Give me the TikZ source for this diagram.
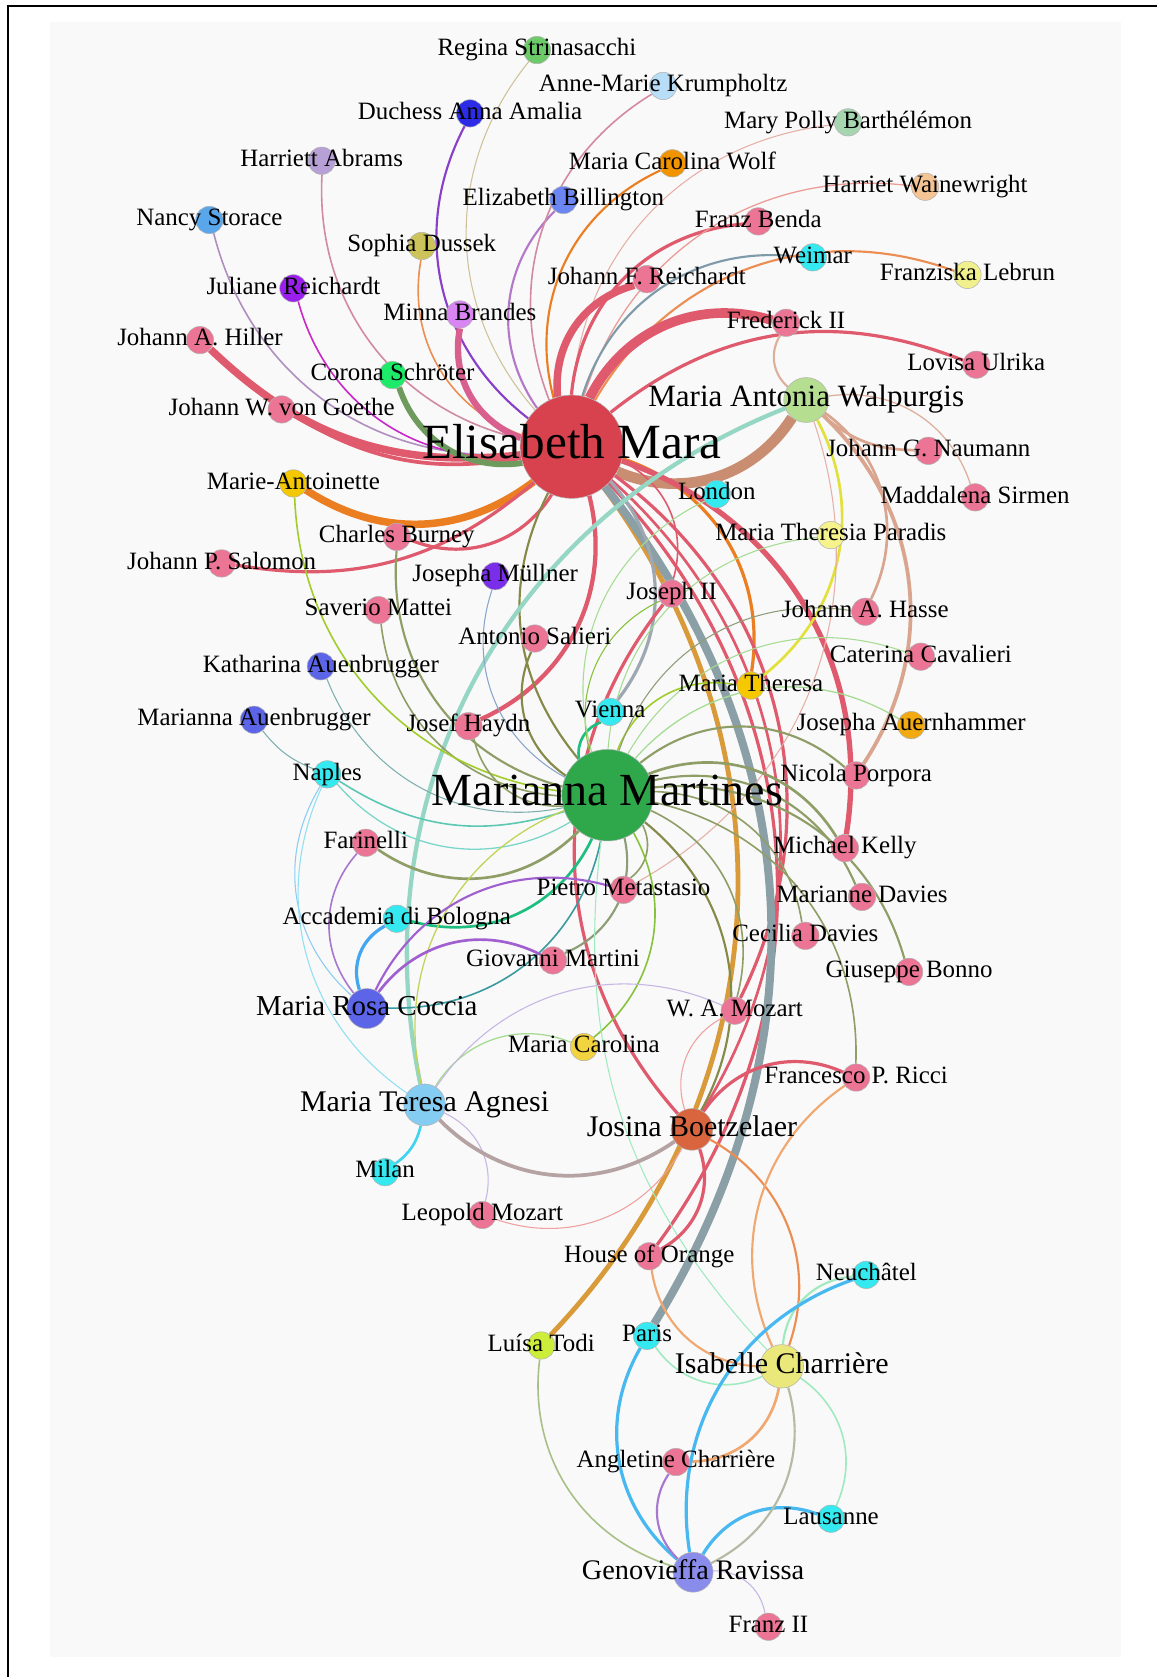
\documentclass[tikz,border=0pt]{standalone}
\usepackage{fontspec}
\setmainfont{Liberation Serif}
\pgfdeclarelayer{bglayer}
\pgfdeclarelayer{edgelayer}
\pgfsetlayers{bglayer,edgelayer,main}
% edge colours
\definecolor{cRed}{HTML}{E05A6E}
\definecolor{cTan}{HTML}{CFC29A}
\definecolor{cPurp}{HTML}{8A3FC8}
\definecolor{cMauve}{HTML}{D28AA2}
\definecolor{cLav}{HTML}{B08FC0}
\definecolor{cMag}{HTML}{C828C8}
\definecolor{cGrnG}{HTML}{6E9A5E}
\definecolor{cOrL}{HTML}{EC8E54}
\definecolor{cPinkE}{HTML}{D9608E}
\definecolor{cViol}{HTML}{B478C8}
\definecolor{cOr}{HTML}{EC7E22}
\definecolor{cSalL}{HTML}{E6B0A6}
\definecolor{cSal}{HTML}{EC9C96}
\definecolor{cSlate}{HTML}{7F9BAA}
\definecolor{cBrown}{HTML}{C98E72}
\definecolor{cGold}{HTML}{D99A3A}
\definecolor{cGray}{HTML}{8B9FA6}
\definecolor{cGrayL}{HTML}{9EA8B2}
\definecolor{cOliveD}{HTML}{858A48}
\definecolor{cTanL}{HTML}{DDB09C}
\definecolor{cTanB}{HTML}{D9A58E}
\definecolor{cYel}{HTML}{E2E03A}
\definecolor{cMint}{HTML}{96D6C4}
\definecolor{cOlive}{HTML}{8E9E66}
\definecolor{cTealG}{HTML}{7FB0B0}
\definecolor{cTealL}{HTML}{5CC8B4}
\definecolor{cTealLL}{HTML}{7AD6C8}
\definecolor{cGreen}{HTML}{1DBF80}
\definecolor{cOliveG}{HTML}{8D9D77}
\definecolor{cTeal}{HTML}{3A9AA0}
\definecolor{cLime}{HTML}{86C23A}
\definecolor{cYelG}{HTML}{C2D458}
\definecolor{cLimeY}{HTML}{A0CC2C}
\definecolor{cBlueG}{HTML}{8AA4CC}
\definecolor{cLGreen}{HTML}{A6DC92}
\definecolor{cMintL}{HTML}{A0EAC0}
\definecolor{cPurpL}{HTML}{A878D0}
\definecolor{cBlue}{HTML}{42A6F2}
\definecolor{cPurpM}{HTML}{A060D0}
\definecolor{cSky}{HTML}{8CCBF4}
\definecolor{cCyanL}{HTML}{90E0F4}
\definecolor{cCyan}{HTML}{40D4F0}
\definecolor{cLavL}{HTML}{C6B6E2}
\definecolor{cMauveG}{HTML}{B5A3A3}
\definecolor{cPinkL}{HTML}{F0A0A0}
\definecolor{cPeach}{HTML}{F0A870}
\definecolor{cBlueS}{HTML}{48B8F0}
\definecolor{cGrayG}{HTML}{B4BAA4}
\definecolor{cSage}{HTML}{A8C088}
% node colours
\definecolor{nPink}{HTML}{EC7494}
\definecolor{nCyan}{HTML}{34EAF0}
\definecolor{nRegina}{HTML}{6CCB68}
\definecolor{nAnne}{HTML}{B8DDF6}
\definecolor{nAnna}{HTML}{2C2CE6}
\definecolor{nMary}{HTML}{A6D6B0}
\definecolor{nAbrams}{HTML}{B6A0D6}
\definecolor{nWolf}{HTML}{F29400}
\definecolor{nBill}{HTML}{6B86F2}
\definecolor{nWaine}{HTML}{F4C494}
\definecolor{nStorace}{HTML}{5AA6EA}
\definecolor{nDussek}{HTML}{CCC45A}
\definecolor{nLebrun}{HTML}{F0F08C}
\definecolor{nJuliane}{HTML}{9A1EEE}
\definecolor{nBrandes}{HTML}{D884F2}
\definecolor{nCorona}{HTML}{1EEA6A}
\definecolor{nMAW}{HTML}{B6DE90}
\definecolor{nEM}{HTML}{D8414E}
\definecolor{nAntoin}{HTML}{F4C800}
\definecolor{nParadis}{HTML}{F6F28C}
\definecolor{nMullner}{HTML}{7A2EEA}
\definecolor{nAuen}{HTML}{5C64E8}
\definecolor{nTheresa}{HTML}{F6C800}
\definecolor{nAuern}{HTML}{F2AA10}
\definecolor{nMM}{HTML}{2EA84A}
\definecolor{nCarolina}{HTML}{F2D440}
\definecolor{nAgnesi}{HTML}{84CCF2}
\definecolor{nJB}{HTML}{D9653F}
\definecolor{nTodi}{HTML}{CCEE3A}
\definecolor{nIC}{HTML}{EAE87A}
\definecolor{nGR}{HTML}{8A8CEC}
\definecolor{cPanel}{HTML}{F9F9F9}
\newcommand{\edg}[5][40]{\draw[line width=#4pt, draw=#5] (#2) to[bend right=#1] (#3);}
\tikzset{
  nd/.style={circle, inner sep=0pt, minimum size=25.6pt, draw=black!30, line width=0.5pt},
  lab/.style={font=\fontsize{23.3}{24}\selectfont, anchor=base, yshift=-5.4pt, inner sep=0pt},
  labm/.style={font=\fontsize{28}{29}\selectfont, anchor=base, yshift=-6.4pt, inner sep=0pt},
  labb/.style={font=\fontsize{46}{47}\selectfont, anchor=base, yshift=-10.6pt, inner sep=0pt},
}
\begin{document}
\begin{tikzpicture}[x=1pt,y=-1pt]
\useasboundingbox (0,0) rectangle (1082,1568);
\begin{pgfonlayer}{bglayer}
\fill[white] (0,0) rectangle (1082,1568);
\fill[cPanel] (46.8,20.6) rectangle (1048,1549);
\draw[line width=1.9pt] (7.5,1568) -- (7.5,5.6) -- (1082,5.6);
\end{pgfonlayer}
% ---------------- nodes
\node[nd, fill=nRegina] (regina) at (502,46.8) {};
\node[nd, fill=nAnne] (anne) at (620,80.4) {};
\node[nd, fill=nAnna] (anna) at (439.5,106) {};
\node[nd, fill=nMary] (mary) at (793,114.4) {};
\node[nd, fill=nAbrams] (abrams) at (300.8,150.3) {};
\node[nd, fill=nWolf] (wolf) at (628.7,152.7) {};
\node[nd, fill=nBill] (billington) at (526.8,187) {};
\node[nd, fill=nWaine] (wainewright) at (865,174.6) {};
\node[nd, fill=nStorace] (storace) at (195.8,205.7) {};
\node[nd, fill=nDussek] (dussek) at (394.3,230) {};
\node[nd, fill=nPink] (benda) at (709,207) {};
\node[nd, fill=nCyan] (weimar) at (760,240.6) {};
\node[nd, fill=nLebrun] (lebrun) at (904.6,257) {};
\node[nd, fill=nPink] (jfreichardt) at (604.8,261) {};
\node[nd, fill=nJuliane] (juliane) at (274.3,269.6) {};
\node[nd, fill=nBrandes] (brandes) at (430,294) {};
\node[nd, fill=nPink] (hiller) at (187,318) {};
\node[nd, fill=nPink] (frederick) at (735,301.8) {};
\node[nd, fill=nPink] (lovisa) at (912.8,341) {};
\node[nd, fill=nCorona] (corona) at (367,350.7) {};
\node[nd, fill=nPink] (goethe) at (263.4,382.8) {};
\node[nd, fill=nMAW, minimum size=42pt] (maw) at (753.8,374) {};
\node[nd, fill=nEM, minimum size=96.6pt] (em) at (534.6,417.7) {};
\node[nd, fill=nPink] (naumann) at (868,421.5) {};
\node[nd, fill=nPink] (sirmen) at (911.8,465) {};
\node[nd, fill=nCyan] (london) at (670.2,462) {};
\node[nd, fill=nAntoin] (antoinette) at (274.3,452) {};
\node[nd, fill=nParadis] (paradis) at (776.8,500.3) {};
\node[nd, fill=nPink] (burney) at (371,502) {};
\node[nd, fill=nPink] (salomon) at (207.3,526.8) {};
\node[nd, fill=nMullner] (mullner) at (463,538.7) {};
\node[nd, fill=nPink] (joseph) at (628,555) {};
\node[nd, fill=nPink] (mattei) at (353.8,570.5) {};
\node[nd, fill=nPink] (hasse) at (809,572) {};
\node[nd, fill=nPink] (salieri) at (500,597) {};
\node[nd, fill=nPink] (cavalieri) at (861,614) {};
\node[nd, fill=nAuen] (katharina) at (300,623) {};
\node[nd, fill=nTheresa] (theresa) at (702,641) {};
\node[nd, fill=nAuern] (auernhammer) at (852,678) {};
\node[nd, fill=nAuen] (marianna) at (237.5,673) {};
\node[nd, fill=nCyan] (vienna) at (570.5,665.6) {};
\node[nd, fill=nPink] (haydn) at (438,679) {};
\node[nd, fill=nCyan] (naples) at (306,724) {};
\node[nd, fill=nPink] (porpora) at (800.5,725) {};
\node[nd, fill=nMM, minimum size=85.6pt] (mm) at (568,743.5) {};
\node[nd, fill=nPink] (farinelli) at (342,788) {};
\node[nd, fill=nPink] (kelly) at (790,793) {};
\node[nd, fill=nPink] (metastasio) at (583,832) {};
\node[nd, fill=nCyan] (accademia) at (371,859) {};
\node[nd, fill=nPink] (mdavies) at (806,838.6) {};
\node[nd, fill=nPink] (cdavies) at (753,875) {};
\node[nd, fill=nPink] (martini) at (517,898) {};
\node[nd, fill=nPink] (bonno) at (850,908.7) {};
\node[nd, fill=nAuen, minimum size=37.4pt] (coccia) at (343,943) {};
\node[nd, fill=nPink] (mozart) at (687,945) {};
\node[nd, fill=nCarolina] (carolina) at (546,979) {};
\node[nd, fill=nPink] (ricci) at (800.5,1007.5) {};
\node[nd, fill=nAgnesi, minimum size=39pt] (agnesi) at (397,1033) {};
\node[nd, fill=nJB, minimum size=39pt] (boetzelaer) at (647,1056) {};
\node[nd, fill=nCyan] (milan) at (360,1096) {};
\node[nd, fill=nPink] (leopold) at (451,1136) {};
\node[nd, fill=nPink] (orange) at (607,1174.6) {};
\node[nd, fill=nCyan] (neuchatel) at (810,1192) {};
\node[nd, fill=nCyan] (paris) at (605,1249) {};
\node[nd, fill=nTodi] (todi) at (506,1258) {};
\node[nd, fill=nIC, minimum size=40.6pt] (charriere) at (731,1277.5) {};
\node[nd, fill=nPink] (angletine) at (632,1367) {};
\node[nd, fill=nCyan] (lausanne) at (777,1420) {};
\node[nd, fill=nGR, minimum size=37.4pt] (ravissa) at (648,1470) {};
\node[nd, fill=nPink] (franz) at (718.5,1521) {};
% ---------------- edges
\begin{pgfonlayer}{edgelayer}
\edg{regina}{em}{1}{cTan}
\edg{anna}{em}{2}{cPurp}
\edg{abrams}{em}{1.5}{cMauve}
\edg{storace}{em}{1.5}{cLav}
\edg{juliane}{em}{1.5}{cMag}
\edg[25]{hiller}{em}{7}{cRed}
\edg[20]{goethe}{em}{3.5}{cRed}
\edg{corona}{em}{5.5}{cGrnG}
\edg{dussek}{em}{1.5}{cOrL}
\edg{brandes}{em}{6}{cPinkE}
\edg{billington}{em}{2}{cViol}
\edg{anne}{em}{1.5}{cMauve}
\edg{wolf}{em}{2}{cOr}
\edg{mary}{em}{1}{cSalL}
\edg{jfreichardt}{em}{7}{cRed}
\edg{benda}{em}{3}{cRed}
\edg{wainewright}{em}{1.2}{cSal}
\edg{weimar}{em}{2}{cSlate}
\edg{lebrun}{em}{2}{cOrL}
\edg{frederick}{em}{9}{cRed}
\edg[30]{lovisa}{em}{3}{cRed}
\edg{em}{maw}{10}{cBrown}
\edg[35]{antoinette}{em}{7}{cOr}
\edg[25]{salomon}{em}{3}{cRed}
\edg{burney}{em}{3}{cRed}
\edg{haydn}{em}{4}{cRed}
\edg{joseph}{em}{1.5}{cRed}
\edg{theresa}{em}{3}{cOr}
\edg{kelly}{em}{5}{cRed}
\edg{mozart}{em}{3}{cRed}
\edg{orange}{em}{3}{cRed}
\edg{boetzelaer}{em}{2.5}{cRed}
\edg{todi}{em}{4.5}{cGold}
\edg[35]{paris}{em}{7.5}{cGray}
\edg{vienna}{em}{3}{cGrayL}
\edg[33]{em}{mm}{2}{cOliveD}
\edg{joseph}{boetzelaer}{3}{cRed}
% MAW
\edg{frederick}{maw}{2}{cTanL}
\edg[20]{maw}{naumann}{2.5}{cTanB}
\edg{sirmen}{maw}{1.2}{cTanL}
\edg{hasse}{maw}{2.5}{cTanB}
\edg{porpora}{maw}{3.5}{cTanB}
\edg{theresa}{maw}{2.5}{cYel}
\edg{maw}{agnesi}{4}{cMint}
\edg{metastasio}{maw}{1}{cSalL}
% MM
\edg{burney}{mm}{2}{cOlive}
\edg{mattei}{mm}{1.5}{cOlive}
\edg{katharina}{mm}{1}{cTealG}
\edg[15]{marianna}{naples}{1}{cTealG}
\edg[25]{naples}{mm}{1.5}{cTealL}
\edg[40]{naples}{mm}{1.2}{cTealLL}
\edg{farinelli}{mm}{2.5}{cOlive}
\edg{accademia}{mm}{2.5}{cGreen}
\edg{martini}{mm}{2}{cOliveG}
\edg{coccia}{mm}{1.5}{cTeal}
\edg{metastasio}{mm}{1.5}{cOlive}
\edg{carolina}{mm}{1.5}{cLime}
\edg{mm}{agnesi}{1.2}{cYelG}
\edg{antoinette}{mm}{1.5}{cLimeY}
\edg{mullner}{mm}{1}{cBlueG}
\edg{haydn}{mm}{1.5}{cOlive}
\edg{salieri}{mm}{2}{cOliveD}
\edg{vienna}{mm}{2.5}{cGreen}
\edg{joseph}{mm}{1}{cLime}
\edg{theresa}{mm}{1.5}{cLimeY}
\edg{paradis}{mm}{1}{cLGreen}
\edg{london}{mm}{1}{cLGreen}
\edg{hasse}{mm}{1}{cOliveG}
\edg{cavalieri}{mm}{1}{cLGreen}
\edg{auernhammer}{mm}{1.2}{cLGreen}
\edg{porpora}{mm}{2}{cOlive}
\edg{kelly}{mm}{2.5}{cOlive}
\edg{mdavies}{mm}{2}{cOlive}
\edg{cdavies}{mm}{1.5}{cOlive}
\edg{bonno}{mm}{2}{cOlive}
\edg{ricci}{mm}{1.5}{cOlive}
\edg{mozart}{mm}{1.5}{cOlive}
\edg{boetzelaer}{mm}{2}{cOliveD}
\edg[25]{mm}{charriere}{1}{cMintL}
% Coccia
\edg{farinelli}{coccia}{1.5}{cPurpL}
\edg{accademia}{coccia}{3}{cBlue}
\edg{martini}{coccia}{2.5}{cPurpM}
\edg{metastasio}{coccia}{2}{cPurpM}
\edg{naples}{coccia}{1}{cSky}
\edg{naples}{agnesi}{1}{cCyanL}
% Agnesi
\edg[20]{milan}{agnesi}{2.5}{cCyan}
\edg{leopold}{agnesi}{1}{cLavL}
\edg{agnesi}{boetzelaer}{3.5}{cMauveG}
\edg{carolina}{agnesi}{1.2}{cLGreen}
\edg{mozart}{agnesi}{1}{cLavL}
% Boetzelaer
\edg{leopold}{boetzelaer}{1}{cPinkL}
\edg{mozart}{boetzelaer}{1}{cPinkL}
\edg{ricci}{boetzelaer}{3}{cRed}
\edg{orange}{boetzelaer}{3}{cRed}
\edg{charriere}{boetzelaer}{2}{cOrL}
% Charriere / Ravissa
\edg{ricci}{charriere}{2}{cPeach}
\edg{orange}{charriere}{2}{cPeach}
\edg{angletine}{charriere}{2.5}{cPeach}
\edg{paris}{charriere}{1.5}{cMintL}
\edg{neuchatel}{charriere}{2}{cMintL}
\edg{lausanne}{charriere}{1.5}{cMintL}
\edg{neuchatel}{ravissa}{3}{cBlueS}
\edg{lausanne}{ravissa}{3}{cBlueS}
\edg{ravissa}{charriere}{2}{cGrayG}
\edg{paris}{ravissa}{3}{cBlueS}
\edg{angletine}{ravissa}{2}{cPurpL}
\edg{todi}{ravissa}{1.5}{cSage}
\edg{franz}{ravissa}{1}{cLavL}
\end{pgfonlayer}
% ---------------- labels
\node[lab] (reginaL) at (regina) {Regina Strinasacchi};
\node[lab] (anneL) at (anne) {Anne-Marie Krumpholtz};
\node[lab] (annaL) at (anna) {Duchess Anna Amalia};
\node[lab] (maryL) at (mary) {Mary Polly Barthélémon};
\node[lab] (abramsL) at (abrams) {Harriett Abrams};
\node[lab] (wolfL) at (wolf) {Maria Carolina Wolf};
\node[lab] (billingtonL) at (billington) {Elizabeth Billington};
\node[lab] (wainewrightL) at (wainewright) {Harriet Wainewright};
\node[lab] (storaceL) at (storace) {Nancy Storace};
\node[lab] (dussekL) at (dussek) {Sophia Dussek};
\node[lab] (bendaL) at (benda) {Franz Benda};
\node[lab] (weimarL) at (weimar) {Weimar};
\node[lab] (lebrunL) at (lebrun) {Franziska Lebrun};
\node[lab] (jfreichardtL) at (jfreichardt) {Johann F. Reichardt};
\node[lab] (julianeL) at (juliane) {Juliane Reichardt};
\node[lab] (brandesL) at (brandes) {Minna Brandes};
\node[lab] (hillerL) at (hiller) {Johann A. Hiller};
\node[lab] (frederickL) at (frederick) {Frederick II};
\node[lab] (lovisaL) at (lovisa) {Lovisa Ulrika};
\node[lab] (coronaL) at (corona) {Corona Schröter};
\node[lab] (goetheL) at (goethe) {Johann W. von Goethe};
\node[labm, font=\fontsize{29}{30}\selectfont] (mawL) at (maw) {Maria Antonia Walpurgis};
\node[labb] (emL) at (em) {Elisabeth Mara};
\node[lab] (naumannL) at (naumann) {Johann G. Naumann};
\node[lab] (sirmenL) at (sirmen) {Maddalena Sirmen};
\node[lab] (londonL) at (london) {London};
\node[lab] (antoinetteL) at (antoinette) {Marie-Antoinette};
\node[lab] (paradisL) at (paradis) {Maria Theresia Paradis};
\node[lab] (burneyL) at (burney) {Charles Burney};
\node[lab] (salomonL) at (salomon) {Johann P. Salomon};
\node[lab] (mullnerL) at (mullner) {Josepha Müllner};
\node[lab] (josephL) at (joseph) {Joseph II};
\node[lab] (matteiL) at (mattei) {Saverio Mattei};
\node[lab] (hasseL) at (hasse) {Johann A. Hasse};
\node[lab] (salieriL) at (salieri) {Antonio Salieri};
\node[lab] (cavalieriL) at (cavalieri) {Caterina Cavalieri};
\node[lab] (katharinaL) at (katharina) {Katharina Auenbrugger};
\node[lab] (theresaL) at (theresa) {Maria Theresa};
\node[lab] (auernhammerL) at (auernhammer) {Josepha Auernhammer};
\node[lab] (mariannaL) at (marianna) {Marianna Auenbrugger};
\node[lab] (viennaL) at (vienna) {Vienna};
\node[lab] (haydnL) at (haydn) {Josef Haydn};
\node[lab] (naplesL) at (naples) {Naples};
\node[lab] (porporaL) at (porpora) {Nicola Porpora};
\node[labb, font=\fontsize{43}{44}\selectfont, yshift=0.6pt] (mmL) at (mm) {Marianna Martines};
\node[lab] (farinelliL) at (farinelli) {Farinelli};
\node[lab] (kellyL) at (kelly) {Michael Kelly};
\node[lab] (metastasioL) at (metastasio) {Pietro Metastasio};
\node[lab] (accademiaL) at (accademia) {Accademia di Bologna};
\node[lab] (mdaviesL) at (mdavies) {Marianne Davies};
\node[lab] (cdaviesL) at (cdavies) {Cecilia Davies};
\node[lab] (martiniL) at (martini) {Giovanni Martini};
\node[lab] (bonnoL) at (bonno) {Giuseppe Bonno};
\node[labm, font=\fontsize{27}{28}\selectfont] (cocciaL) at (coccia) {Maria Rosa Coccia};
\node[lab] (mozartL) at (mozart) {W. A. Mozart};
\node[lab] (carolinaL) at (carolina) {Maria Carolina};
\node[lab] (ricciL) at (ricci) {Francesco P. Ricci};
\node[labm] (agnesiL) at (agnesi) {Maria Teresa Agnesi};
\node[labm] (boetzelaerL) at (boetzelaer) {Josina Boetzelaer};
\node[lab] (milanL) at (milan) {Milan};
\node[lab] (leopoldL) at (leopold) {Leopold Mozart};
\node[lab] (orangeL) at (orange) {House of Orange};
\node[lab] (neuchatelL) at (neuchatel) {Neuchâtel};
\node[lab] (parisL) at (paris) {Paris};
\node[lab] (todiL) at (todi) {Luísa Todi};
\node[labm] (charriereL) at (charriere) {Isabelle Charrière};
\node[lab] (angletineL) at (angletine) {Angletine Charrière};
\node[lab] (lausanneL) at (lausanne) {Lausanne};
\node[labm, font=\fontsize{26.5}{27}\selectfont] (ravissaL) at (ravissa) {Genovieffa Ravissa};
\node[lab] (franzL) at (franz) {Franz II};
\end{tikzpicture}
\end{document}
